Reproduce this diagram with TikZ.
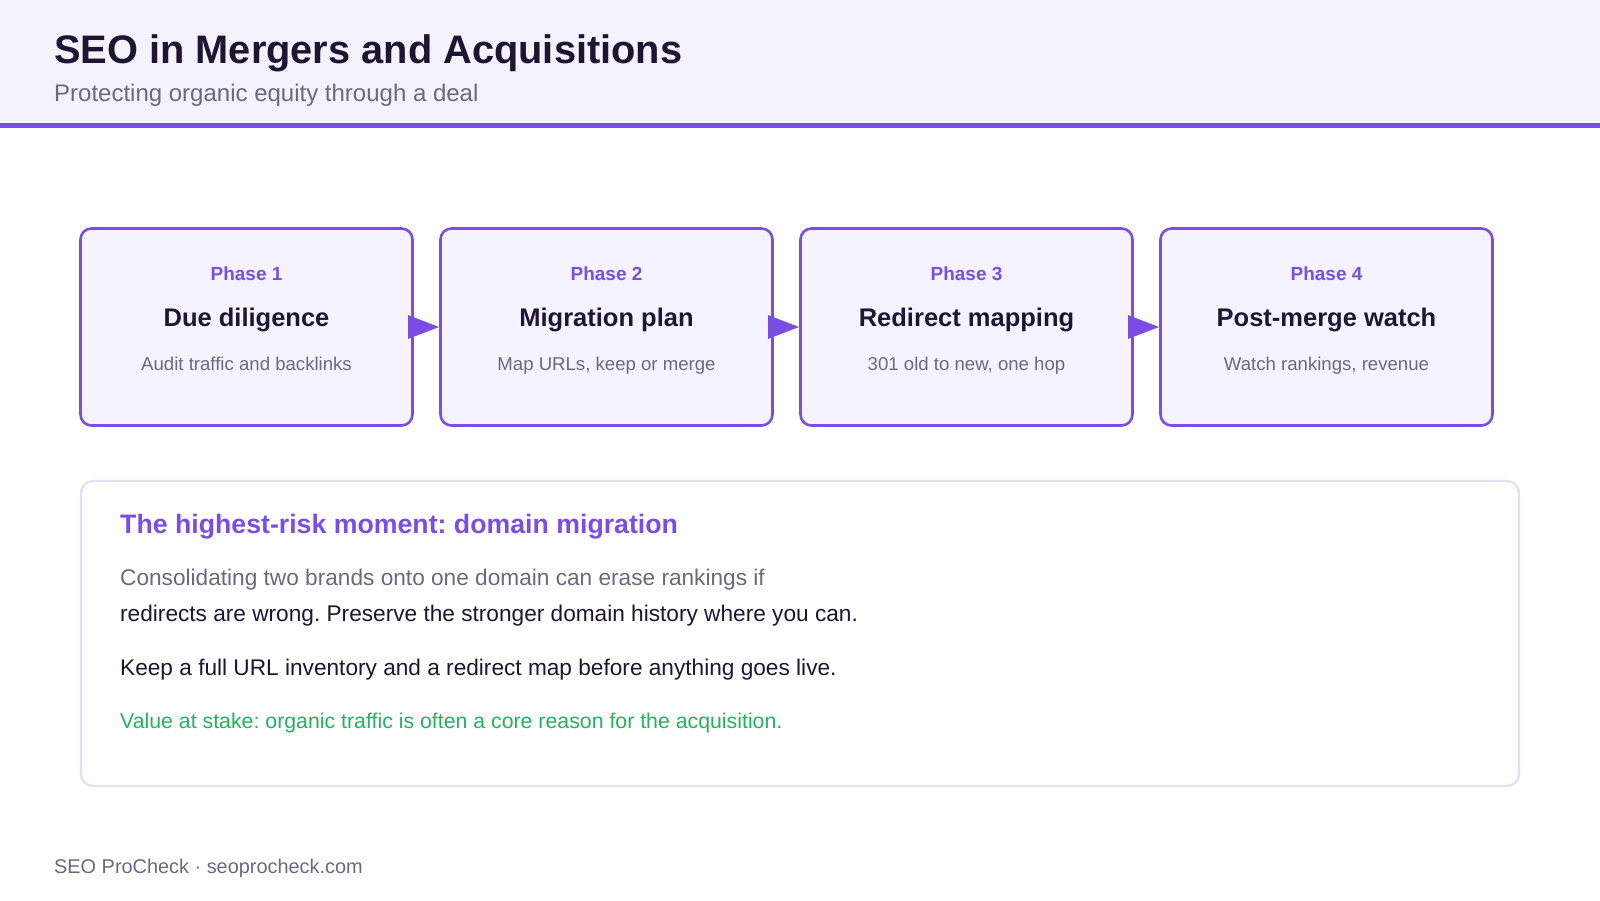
\documentclass[tikz,border=0pt]{standalone}
\usepackage{fontspec}
\setmainfont{Liberation Sans}
\usetikzlibrary{arrows.meta}
\frenchspacing
\definecolor{purp}{HTML}{7B4EE3}
\definecolor{headbg}{HTML}{F4F2FD}
\definecolor{boxbg}{HTML}{F5F3FF}
\definecolor{darktxt}{HTML}{1C1633}
\definecolor{graytxt}{HTML}{6B6880}
\definecolor{panelline}{HTML}{E3E0F0}
\definecolor{greentxt}{HTML}{22B35E}
\tikzset{
  phasebox/.style={draw=purp, line width=2.6pt, fill=boxbg, rounded corners=11pt, minimum width=332pt, minimum height=197pt, inner sep=0pt},
  panelbox/.style={draw=panelline, line width=2.4pt, fill=white, rounded corners=12pt, minimum width=1438pt, minimum height=305pt, inner sep=0pt},
  phaselbl/.style={anchor=base, inner sep=0pt, text=purp, font=\fontsize{19}{23}\selectfont\bfseries},
  phasettl/.style={anchor=base, inner sep=0pt, text=darktxt, font=\fontsize{25.5}{30}\selectfont\bfseries},
  phasesub/.style={anchor=base, inner sep=0pt, text=graytxt, font=\fontsize{18.6}{22}\selectfont},
  bodytxt/.style={anchor=base west, inner sep=0pt, font=\fontsize{22.65}{27}\selectfont},
  flow/.style={draw=purp, line width=2.6pt, -{Triangle[length=31pt,width=23pt]}, fill=purp}
}
\begin{document}
\begin{tikzpicture}[x=1pt,y=-1pt]
\useasboundingbox (0,0) rectangle (1600,900);
% header
\fill[headbg] (0,0) rectangle (1600,124);
\fill[purp] (0,123) rectangle (1600,127.5);
\node[anchor=base west, inner sep=0pt, text=darktxt, font=\fontsize{39.8}{48}\selectfont\bfseries] (title) at (54,63) {SEO in Mergers and Acquisitions};
\node[anchor=base west, inner sep=0pt, text=graytxt, font=\fontsize{24}{29}\selectfont] (subtitle) at (54,101.5) {Protecting organic equity through a deal};
% phase boxes
\node[phasebox] (b1) at (246.5,327) {};
\node[phasebox] (b2) at (606.5,327) {};
\node[phasebox] (b3) at (966.5,327) {};
\node[phasebox] (b4) at (1326.5,327) {};
% phase texts
\node[phaselbl] (p1) at (246.5,280.5) {Phase 1};
\node[phasettl] (t1) at (246.5,326.5) {Due diligence};
\node[phasesub] (s1) at (246.5,370.5) {Audit traffic and backlinks};
\node[phaselbl] (p2) at (606.5,280.5) {Phase 2};
\node[phasettl] (t2) at (606.5,326.5) {Migration plan};
\node[phasesub] (s2) at (606.5,370.5) {Map URLs, keep or merge};
\node[phaselbl] (p3) at (966.5,280.5) {Phase 3};
\node[phasettl] (t3) at (966.5,326.5) {Redirect mapping};
\node[phasesub] (s3) at (966.5,370.5) {301 old to new, one hop};
\node[phaselbl] (p4) at (1326.5,280.5) {Phase 4};
\node[phasettl] (t4) at (1326.5,326.5) {Post-merge watch};
\node[phasesub] (s4) at (1326.5,370.5) {Watch rankings, revenue};
% connectors
\draw[flow] (b1.east) -- (b2.west);
\draw[flow] (b2.east) -- (b3.west);
\draw[flow] (b3.east) -- (b4.west);
% panel
\node[panelbox] (panel) at (800,633.5) {};
\node[anchor=base west, inner sep=0pt, text=purp, font=\fontsize{26.7}{32}\selectfont\bfseries] (ph) at (120,533.5) {The highest-risk moment: domain migration};
\node[bodytxt, text=graytxt] (l1) at (120,585) {Consolidating two brands onto one domain can erase rankings if};
\node[bodytxt, text=darktxt] (l2) at (120,621.5) {redirects are wrong. Preserve the stronger domain history where you can.};
\node[bodytxt, text=darktxt] (l3) at (120,675) {Keep a full URL inventory and a redirect map before anything goes live.};
\node[bodytxt, text=greentxt, font=\fontsize{21.3}{26}\selectfont] (l4) at (120,728.5) {Value at stake: organic traffic is often a core reason for the acquisition.};
% footer
\node[anchor=base west, inner sep=0pt, text=graytxt, font=\fontsize{19.9}{23}\selectfont] (footer) at (54,873) {SEO ProCheck · seoprocheck.com};
\end{tikzpicture}
\end{document}
